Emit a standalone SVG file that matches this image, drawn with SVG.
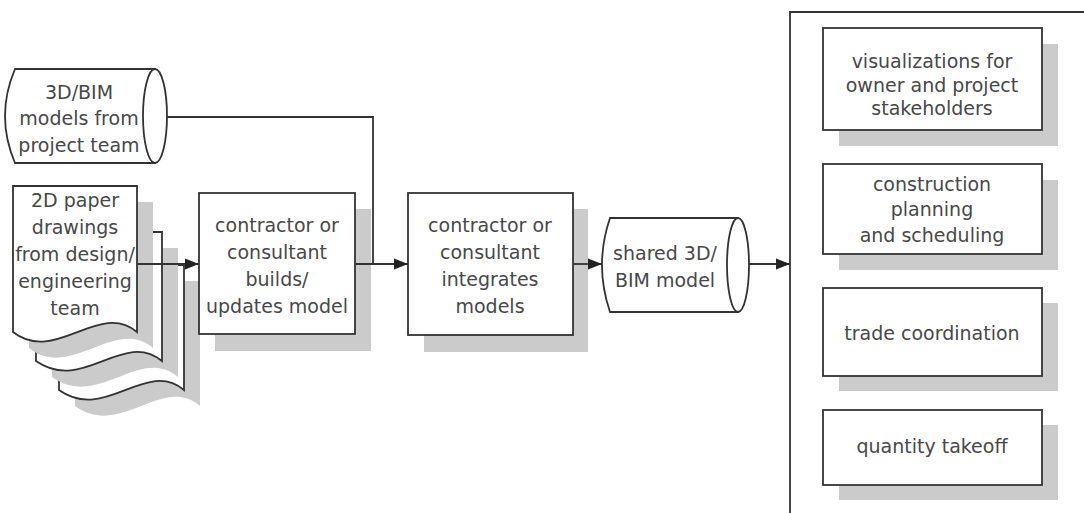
<svg xmlns="http://www.w3.org/2000/svg" width="1084" height="513" viewBox="0 0 1084 513">
<style>
.ln{fill:none;stroke:#333;stroke-width:1.8}
.bx{fill:#fff;stroke:#333;stroke-width:1.8}
.sh{fill:#cbcbcb;stroke:none}
.t{font-family:"DejaVu Sans",sans-serif;font-size:19px;fill:#484848;text-anchor:middle}
</style>
<defs>
<marker id="ah" markerWidth="16" markerHeight="14" refX="14" refY="7" orient="auto" markerUnits="userSpaceOnUse">
<path d="M0,1.5 L14,7 L0,12.5 Z" fill="#222"/>
</marker>
</defs>
<rect width="1084" height="513" fill="#fff"/>

<g id="container">
<path class="ln" d="M1090,12 H790 V520"/>
</g>

<g id="bim-models">
<path class="bx" d="M15,69 H155 V163 H15 Q-5,116 15,69 Z"/>
<ellipse class="bx" cx="155" cy="116" rx="12" ry="47"/>
<text class="t" x="79" y="99">3D/BIM</text>
<text class="t" x="79" y="125">models from</text>
<text class="t" x="79" y="152">project team</text>
</g>

<g id="paper-drawings">
<path class="sh" d="M75,281 H200 V406 C162,374 121,439 75,406 Z"/>
<path class="bx" d="M59,265 H184 V390 C146,358 105,423 59,390 Z"/>
<path class="sh" d="M52,248 H178 V377 C139,345 99,410 52,377 Z"/>
<path class="bx" d="M36,232 H162 V361 C123,329 83,394 36,361 Z"/>
<path class="sh" d="M29,202 H153 V348 C115,316 71,381 29,348 Z"/>
<path class="bx" d="M13,186 H137 V332 C99,300 55,365 13,332 Z"/>
<text class="t" x="75" y="207">2D paper</text>
<text class="t" x="75" y="234">drawings</text>
<text class="t" x="75" y="261">from design/</text>
<text class="t" x="75" y="288">engineering</text>
<text class="t" x="75" y="315">team</text>
</g>

<g id="builds-model">
<rect class="sh" x="215" y="209" width="156" height="142"/>
<rect class="bx" x="199" y="193" width="156" height="141"/>
<text class="t" x="277" y="232">contractor or</text>
<text class="t" x="277" y="259">consultant</text>
<text class="t" x="277" y="286">builds/</text>
<text class="t" x="277" y="313">updates model</text>
</g>

<g id="integrates-models">
<rect class="sh" x="424" y="209" width="164" height="143"/>
<rect class="bx" x="408" y="193" width="165" height="142"/>
<text class="t" x="490" y="232">contractor or</text>
<text class="t" x="490" y="259">consultant</text>
<text class="t" x="490" y="286">integrates</text>
<text class="t" x="490" y="313">models</text>
</g>

<g id="shared-model">
<path class="bx" d="M610,218 H738 V312 H610 Q594,265 610,218 Z"/>
<ellipse class="bx" cx="738" cy="265" rx="11" ry="47"/>
<text class="t" x="665" y="260">shared 3D/</text>
<text class="t" x="665" y="287">BIM model</text>
</g>

<g id="visualizations">
<rect class="sh" x="839" y="44" width="219" height="102"/>
<rect class="bx" x="823" y="28" width="219" height="102"/>
<text class="t" x="932" y="68">visualizations for</text>
<text class="t" x="932" y="92">owner and project</text>
<text class="t" x="932" y="115">stakeholders</text>
</g>

<g id="planning">
<rect class="sh" x="839" y="180" width="219" height="90"/>
<rect class="bx" x="823" y="164" width="219" height="90"/>
<text class="t" x="932" y="191">construction</text>
<text class="t" x="932" y="216">planning</text>
<text class="t" x="932" y="242">and scheduling</text>
</g>

<g id="trade-coordination">
<rect class="sh" x="839" y="303" width="219" height="88"/>
<rect class="bx" x="823" y="288" width="219" height="88"/>
<text class="t" x="932" y="340">trade coordination</text>
</g>

<g id="quantity-takeoff">
<rect class="sh" x="839" y="425" width="219" height="75"/>
<rect class="bx" x="823" y="410" width="219" height="75"/>
<text class="t" x="932" y="453">quantity takeoff</text>
</g>

<g id="connectors">
<path class="ln" d="M137,264 H199" marker-end="url(#ah)"/>
<path class="ln" d="M167,117 H373 V264"/>
<path class="ln" d="M355,264 H408" marker-end="url(#ah)"/>
<path class="ln" d="M573,264 H602" marker-end="url(#ah)"/>
<path class="ln" d="M749,264 H790" marker-end="url(#ah)"/>
</g>
</svg>
